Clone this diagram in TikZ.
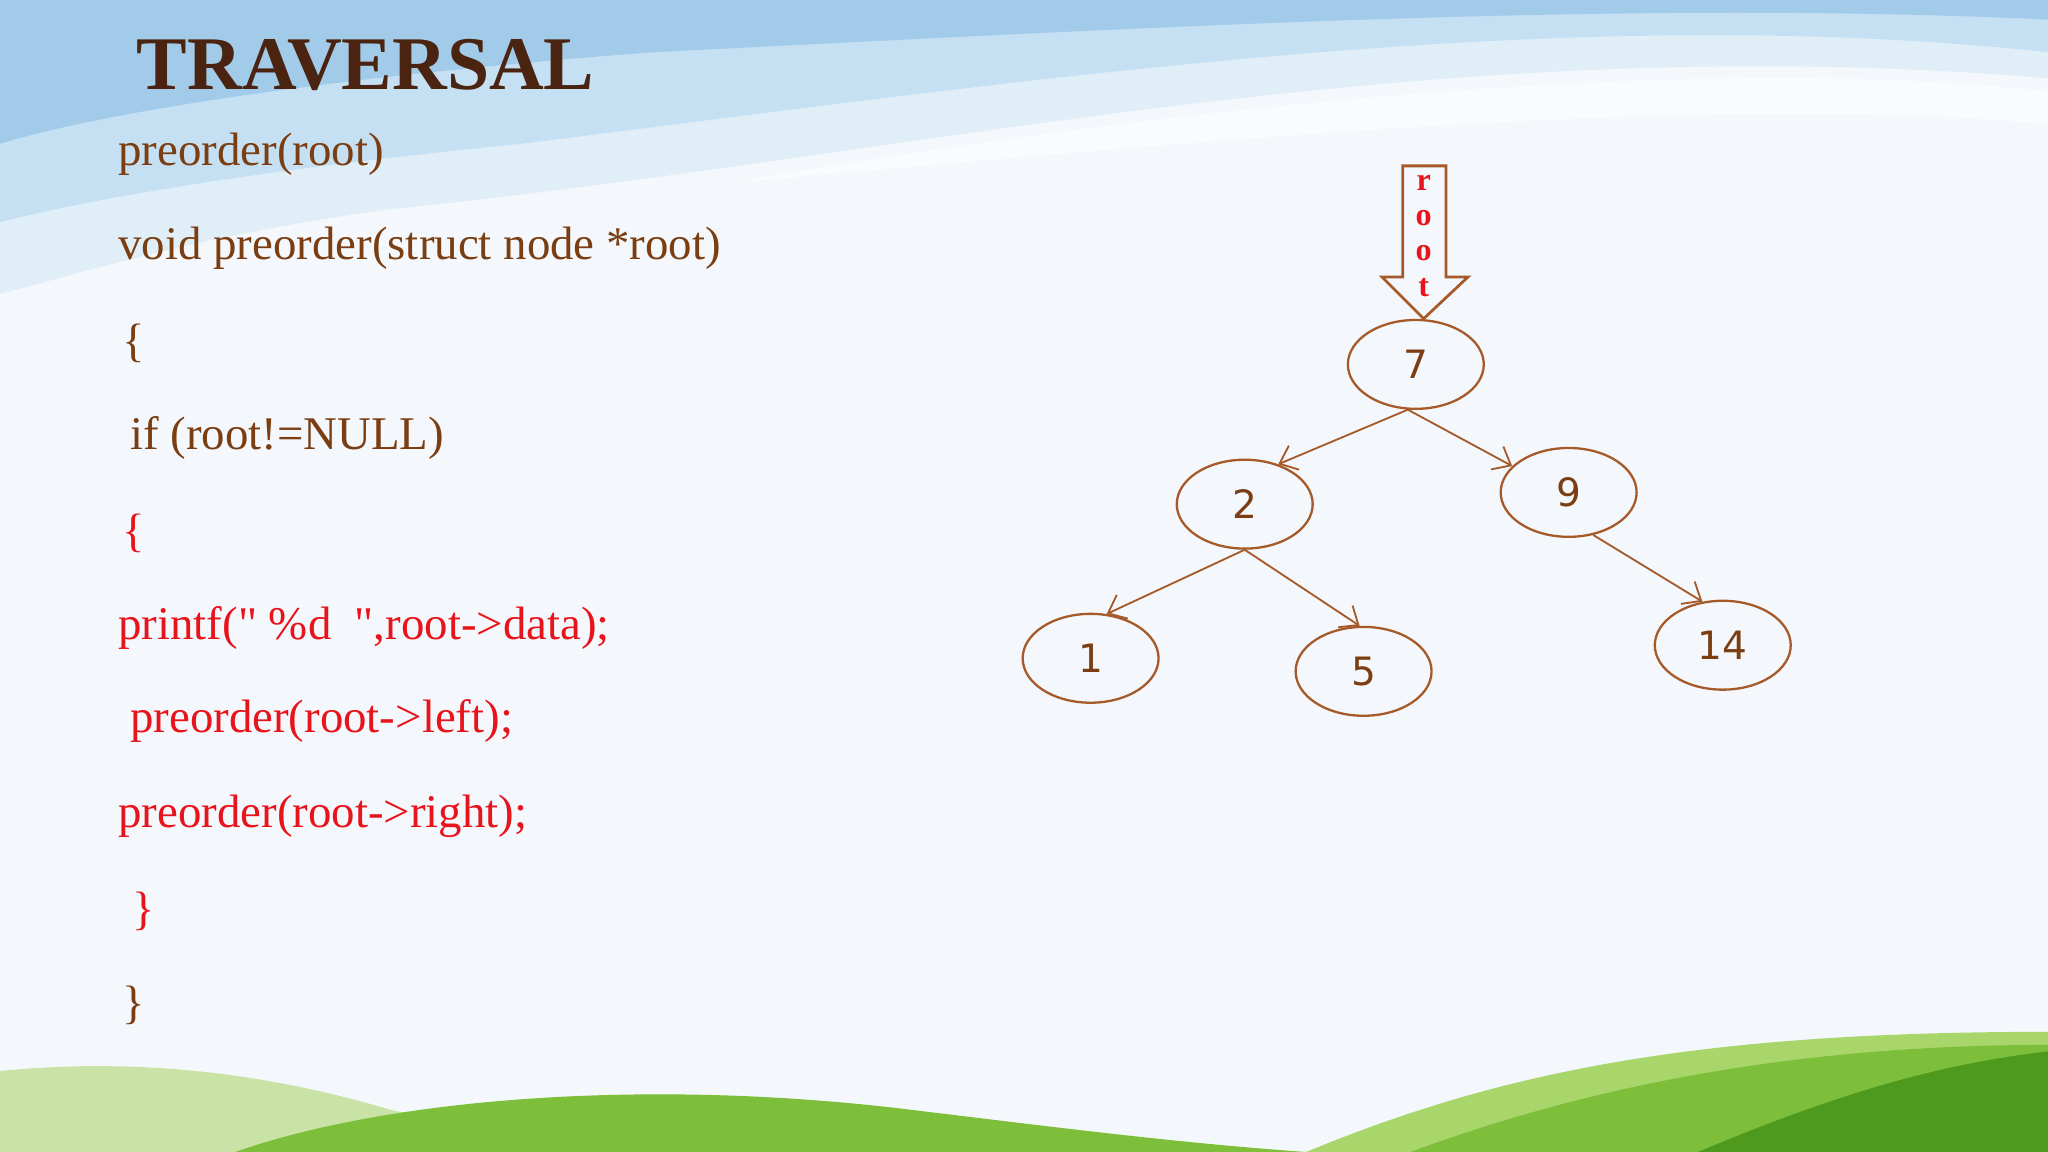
\documentclass[tikz,border=0pt]{standalone}
\usepackage{fontspec}
\setmainfont{Liberation Serif}
\newfontfamily\handfont{DejaVu Sans}
\usetikzlibrary{shapes.geometric,arrows.meta}
\definecolor{codebrown}{HTML}{7A3E12}
\definecolor{titlebrown}{HTML}{4A2410}
\definecolor{codered}{HTML}{E8141B}
\definecolor{nodebrown}{HTML}{A65A2A}
\definecolor{bgpale}{HTML}{F4F8FC}
\definecolor{sky1}{HTML}{A2CBEA}
\definecolor{sky2}{HTML}{C6E0F3}
\definecolor{sky3}{HTML}{E0EEF8}
\definecolor{grass1}{HTML}{4E9A1E}
\definecolor{grass2}{HTML}{7DBE3A}
\definecolor{grass3}{HTML}{A9D66A}
\definecolor{grass4}{HTML}{C9E3A6}
\tikzset{
 code/.style={anchor=west,inner sep=0pt,font=\fontsize{10.2}{12}\selectfont},
 brown/.style={code,text=codebrown},
 red/.style={code,text=codered},
 rletter/.style={text=codered,font=\bfseries\fontsize{7}{8}\selectfont,inner sep=0pt},
 tnode/.style={ellipse,draw=nodebrown,line width=0.5pt,minimum width=1.04cm,minimum height=0.68cm,inner sep=0pt,font=\handfont\fontsize{8.5}{10}\selectfont,text=codebrown},
 edge/.style={draw=nodebrown,line width=0.4pt,-{Straight Barb[length=1.2mm,width=2mm]}},
}
\begin{document}
\begin{tikzpicture}[x=0.01cm,y=-0.01cm]
\useasboundingbox (0,0) rectangle (1568,882);
\fill[bgpale] (0,0) rectangle (1568,882);
% sky
\fill[sky3] (0,0) -- (1568,0) -- (1568,60) .. controls (1100,20) and (700,120) .. (300,160) .. controls (150,180) and (60,210) .. (0,225) -- cycle;
\fill[sky2] (0,0) -- (1568,0) -- (1568,40) .. controls (1200,0) and (800,60) .. (400,110) .. controls (200,130) and (80,150) .. (0,170) -- cycle;
\fill[sky1] (0,0) -- (1568,0) -- (1568,15) .. controls (1250,0) and (900,20) .. (500,40) .. controls (300,55) and (100,80) .. (0,110) -- cycle;
\fill[white,opacity=0.5] (560,140) .. controls (900,80) and (1300,40) .. (1568,70) -- (1568,95) .. controls (1300,70) and (900,110) .. (560,140) -- cycle;
% grass
\fill[grass4] (0,882) -- (0,820) .. controls (100,810) and (200,820) .. (300,850) .. controls (400,870) and (600,875) .. (700,882) -- cycle;
\fill[grass2] (180,882) .. controls (300,840) and (500,825) .. (700,850) .. controls (800,862) and (900,875) .. (1000,882) -- cycle;
\fill[grass3] (1000,882) .. controls (1150,820) and (1300,790) .. (1568,790) -- (1568,882) -- cycle;
\fill[grass2] (1080,882) .. controls (1220,830) and (1380,800) .. (1568,800) -- (1568,882) -- cycle;
\fill[grass1] (1300,882) .. controls (1400,840) and (1480,815) .. (1568,805) -- (1568,882) -- cycle;
% title
\node[anchor=west,inner sep=0pt,text=titlebrown,font=\bfseries\fontsize{16.5}{18}\selectfont] (title) at (104,50) {TRAVERSAL};
% code
\node[brown] (l1) at (90,118) {preorder(root)};
\node[brown] (l2) at (90,190) {void preorder(struct node *root)};
\node[brown] (l3) at (93,263) {\{};
\node[brown] (l4) at (99,335) {if (root!=NULL)};
\node[red] (l5) at (93,408) {\{};
\node[red] (l6) at (90,481) {printf(\textquotedbl\ \%d~~\textquotedbl,root->data);};
\node[red] (l7) at (99,552) {preorder(root->left);};
\node[red] (l8) at (90,625) {preorder(root->right);};
\node[red] (l9) at (101,698) {\}};
\node[brown] (l10) at (93,770) {\}};
% root arrow
\draw[nodebrown,line width=0.6pt,fill=bgpale] (1074,127) -- (1107,127) -- (1107,212) -- (1124,212) -- (1090,244) -- (1058,212) -- (1074,212) -- cycle;
\node[rletter] (r1) at (1090,140) {r};
\node[rletter] (r2) at (1090,167) {o};
\node[rletter] (r3) at (1090,194) {o};
\node[rletter] (r4) at (1090,220) {t};
% tree
\node[tnode] (n7) at (1084,279) {7};
\node[tnode] (n2) at (953,386) {2};
\node[tnode] (n9) at (1201,377) {9};
\node[tnode] (n1) at (835,504) {1};
\node[tnode] (n5) at (1044,514) {5};
\node[tnode] (n14) at (1319,494) {14};
\draw[edge] (n7.-100) -- (n2.50);
\draw[edge] (n7.-100) -- (n9.155);
\draw[edge] (n2.south) -- (n1.70);
\draw[edge] (n2.south) -- (n5.95);
\draw[edge] (n9.-60) -- (n14.115);
\end{tikzpicture}
\end{document}
